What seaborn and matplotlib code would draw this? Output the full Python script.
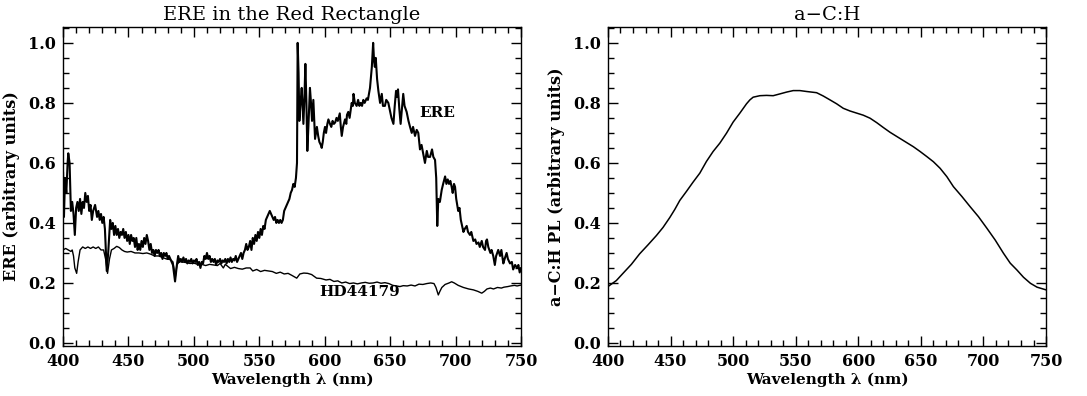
import pandas as pd
import matplotlib
matplotlib.use("Agg")
import matplotlib.pyplot as plt
import seaborn as sns
from matplotlib.ticker import MultipleLocator, FormatStrFormatter

# ERE spectrum of the Red Rectangle
ere_wl = [400, 400.7, 401.5, 402.5, 403.5, 404, 405, 406, 407, 408, 409, 410, 411, 412, 413, 414, 415, 416,
          417, 418, 419, 420, 421, 422, 423, 424.5, 426, 427, 428, 429, 430, 431, 432, 433.4, 434.5, 436,
          437, 438, 439, 440, 441, 442, 443, 444, 445, 446, 447, 448, 449, 450, 451, 452, 453, 454, 455,
          456, 457, 458, 459, 460, 461, 462, 463, 464, 465, 466, 467, 468, 469, 470, 471, 472, 473, 474,
          475, 476, 477, 478, 479, 480, 481, 482, 483, 484, 485.6, 487, 488, 489, 490, 491, 492, 493,
          494, 495, 496, 497, 498, 499, 500, 501, 502, 503, 504, 505, 506, 507, 508, 509, 510, 511, 512,
          513, 514, 515, 516, 517, 518, 519, 520, 521, 522, 523, 524, 525, 526, 527, 528, 529, 530, 531,
          532, 533, 534, 535, 536, 537, 538, 539, 540, 541, 542, 543, 544, 545, 546, 547, 548, 549, 550,
          551, 552, 553, 554, 555, 556, 557, 558, 559, 560, 561, 562, 563, 564, 565, 566, 567, 568, 569,
          570, 571, 572, 573, 574, 575, 576, 577, 578, 578.8, 579.3, 580, 580.6, 581.5, 582.4, 583.2,
          583.7, 584.5, 585.2, 586, 586.7, 587.5, 588.7, 589.5, 590.3, 591.3, 592, 592.6, 593.3, 594, 595,
          595.9, 597, 597.7, 598.5, 599.3, 600.2, 601, 602, 602.8, 604, 605, 606, 607, 608, 609, 610,
          611.5, 612.3, 613, 614, 615.5, 616.5, 617, 618, 619, 620.6, 621.5, 622, 623, 624.4, 625.5,
          626.5, 627.5, 628.5, 629.5, 630.5, 632, 633, 634.6, 636, 637, 637.7, 638.3, 639, 640, 641,
          642.3, 643.6, 644.5, 646, 647, 648.6, 650, 651, 652.5, 653.5, 654.5, 655.3, 656, 657, 658, 659,
          660, 661, 662.6, 664, 665.2, 666.5, 667.5, 669, 670.3, 671.5, 672.8, 674, 675.3, 676.6, 678,
          679, 680.5, 682, 683, 684.3, 685.2, 686, 686.8, 688, 689.4, 690.5, 692, 693, 694, 695, 696, 697,
          697.8, 698.8, 699.6, 700.5, 702, 703, 704, 705, 706, 707, 708.5, 709.5, 711, 712, 713.6, 715,
          716, 717.5, 718.5, 720, 721, 722.5, 723.3, 724, 725, 726.6, 727.5, 728.8, 730, 731, 732.6, 734,
          735, 736.5, 737.5, 739, 740, 741.6, 743, 744, 745.5, 747, 748, 749, 750]
ere_val = [0.57, 0.42, 0.55, 0.50, 0.60, 0.632, 0.60, 0.44, 0.47, 0.43, 0.36, 0.45, 0.47, 0.44, 0.48, 0.43,
           0.47, 0.45, 0.50, 0.47, 0.49, 0.44, 0.46, 0.41, 0.44, 0.46, 0.42, 0.44, 0.41, 0.43, 0.40, 0.42,
           0.38, 0.24, 0.30, 0.41, 0.38, 0.40, 0.36, 0.39, 0.36, 0.38, 0.35, 0.37, 0.36, 0.38, 0.35, 0.37,
           0.34, 0.36, 0.33, 0.36, 0.34, 0.35, 0.32, 0.35, 0.31, 0.33, 0.31, 0.34, 0.32, 0.35, 0.33, 0.36,
           0.34, 0.31, 0.33, 0.30, 0.31, 0.29, 0.31, 0.30, 0.31, 0.29, 0.30, 0.28, 0.30, 0.29, 0.30, 0.28,
           0.29, 0.28, 0.27, 0.26, 0.205, 0.26, 0.29, 0.27, 0.28, 0.27, 0.285, 0.27, 0.28, 0.265, 0.275,
           0.27, 0.28, 0.265, 0.275, 0.27, 0.28, 0.26, 0.27, 0.25, 0.27, 0.265, 0.29, 0.28, 0.30, 0.28,
           0.29, 0.27, 0.28, 0.27, 0.28, 0.26, 0.275, 0.27, 0.28, 0.265, 0.275, 0.27, 0.28, 0.265, 0.28,
           0.27, 0.285, 0.27, 0.28, 0.275, 0.29, 0.27, 0.28, 0.29, 0.30, 0.28, 0.30, 0.31, 0.33, 0.31, 0.32,
           0.34, 0.31, 0.35, 0.33, 0.36, 0.34, 0.37, 0.35, 0.38, 0.36, 0.39, 0.38, 0.41, 0.42, 0.43, 0.44,
           0.43, 0.42, 0.41, 0.42, 0.40, 0.41, 0.40, 0.41, 0.40, 0.41, 0.44, 0.45, 0.46, 0.47, 0.48, 0.50,
           0.51, 0.53, 0.52, 0.55, 0.60, 1.00, 0.90, 0.74, 0.80, 0.85, 0.78, 0.73, 0.82, 0.93, 0.80, 0.64,
           0.72, 0.85, 0.80, 0.74, 0.81, 0.74, 0.68, 0.70, 0.72, 0.69, 0.67, 0.66, 0.65, 0.67, 0.70, 0.72,
           0.70, 0.73, 0.745, 0.73, 0.72, 0.74, 0.73, 0.735, 0.75, 0.74, 0.765, 0.72, 0.69, 0.72, 0.745,
           0.73, 0.76, 0.77, 0.75, 0.80, 0.79, 0.83, 0.80, 0.79, 0.81, 0.79, 0.80, 0.79, 0.81, 0.80, 0.815,
           0.81, 0.85, 0.92, 1.00, 0.94, 0.92, 0.95, 0.88, 0.84, 0.80, 0.83, 0.79, 0.79, 0.81, 0.80, 0.77,
           0.75, 0.73, 0.79, 0.84, 0.82, 0.845, 0.78, 0.73, 0.78, 0.83, 0.79, 0.77, 0.74, 0.72, 0.70, 0.72,
           0.69, 0.71, 0.70, 0.645, 0.66, 0.63, 0.60, 0.64, 0.62, 0.62, 0.645, 0.62, 0.61, 0.55, 0.39, 0.48,
           0.47, 0.51, 0.53, 0.555, 0.53, 0.545, 0.53, 0.54, 0.52, 0.50, 0.53, 0.52, 0.48, 0.44, 0.45, 0.41,
           0.39, 0.37, 0.38, 0.39, 0.37, 0.36, 0.37, 0.34, 0.345, 0.33, 0.335, 0.32, 0.34, 0.32, 0.31, 0.34,
           0.345, 0.32, 0.30, 0.31, 0.29, 0.26, 0.29, 0.31, 0.29, 0.31, 0.265, 0.28, 0.30, 0.28, 0.265,
           0.27, 0.245, 0.26, 0.25, 0.26, 0.235, 0.25]

# HD44179 (central star) spectrum
hd_wl = [400, 402, 404, 406, 407, 408, 409, 410.4, 411.5, 413, 415, 417, 419, 421, 423, 425, 427, 429, 431,
         432.5, 434, 435.5, 437, 439, 441, 443, 445, 447, 449, 452, 455, 458, 461, 464, 467, 470, 473, 476,
         479, 482, 484, 485.8, 487, 489, 491, 494, 497, 500, 503, 506, 509, 512, 515, 518, 520, 522.5, 524,
         526, 528, 531, 534, 537, 540, 543, 545, 548, 551, 554, 557, 560, 563, 566, 569, 572, 575, 578.6,
         581, 584, 587, 590, 593.8, 597, 601, 604, 607, 610, 613, 616, 619, 622, 625, 628, 631, 634, 637,
         640, 643, 646, 649, 652, 655, 657.5, 660, 663, 666, 669, 672, 675, 678, 681, 683.5, 685, 686.8,
         688, 689.5, 692, 695, 697, 699, 702, 706, 710, 713.6, 717, 720, 722, 724, 726.6, 729, 732, 735,
         737, 740, 742, 745, 747, 750]
hd_val = [0.31, 0.315, 0.31, 0.305, 0.31, 0.29, 0.25, 0.232, 0.27, 0.31, 0.32, 0.315, 0.32, 0.315, 0.32,
          0.315, 0.32, 0.31, 0.31, 0.28, 0.232, 0.28, 0.31, 0.315, 0.322, 0.318, 0.31, 0.305, 0.303, 0.305,
          0.30, 0.30, 0.298, 0.30, 0.296, 0.29, 0.29, 0.285, 0.28, 0.278, 0.27, 0.22, 0.26, 0.272, 0.27,
          0.268, 0.265, 0.266, 0.262, 0.262, 0.258, 0.262, 0.26, 0.258, 0.265, 0.25, 0.262, 0.255, 0.248,
          0.252, 0.248, 0.246, 0.25, 0.25, 0.24, 0.245, 0.238, 0.242, 0.24, 0.238, 0.232, 0.236, 0.23,
          0.232, 0.225, 0.216, 0.23, 0.233, 0.232, 0.228, 0.216, 0.215, 0.21, 0.212, 0.205, 0.207, 0.20,
          0.203, 0.198, 0.20, 0.197, 0.20, 0.202, 0.199, 0.20, 0.203, 0.199, 0.201, 0.198, 0.192, 0.19,
          0.188, 0.191, 0.19, 0.193, 0.19, 0.196, 0.195, 0.198, 0.20, 0.198, 0.185, 0.16, 0.172, 0.185,
          0.195, 0.20, 0.204, 0.20, 0.192, 0.185, 0.18, 0.177, 0.172, 0.166, 0.172, 0.18, 0.183, 0.18,
          0.185, 0.183, 0.186, 0.188, 0.19, 0.192, 0.19, 0.193]

# a-C:H photoluminescence
ach_wl = [400, 406.7, 412, 418.7, 425.3, 432, 438.7, 444, 449.4, 453.4, 457.4, 462.7, 468, 473.4, 478.7,
          484, 489.4, 494.7, 500, 505.4, 510.7, 513.4, 516, 521.4, 526.7, 532, 537.4, 542.7, 548, 553.4,
          558.7, 566.7, 572, 577.4, 582.7, 588, 593.4, 598.7, 604, 609.4, 614.8, 620, 625.4, 630.8, 637.4,
          644, 649.4, 654.8, 660, 665.4, 670.8, 676, 682.8, 689.4, 696, 702.8, 709.4, 716, 721.4, 726.8,
          732, 737.5, 742.8, 750]
ach_val = [0.188, 0.208, 0.232, 0.262, 0.297, 0.327, 0.358, 0.385, 0.418, 0.445, 0.475, 0.505, 0.536, 0.566,
           0.605, 0.638, 0.666, 0.699, 0.736, 0.766, 0.797, 0.81, 0.819, 0.824, 0.825, 0.824, 0.83, 0.836,
           0.841, 0.841, 0.838, 0.834, 0.823, 0.81, 0.797, 0.782, 0.773, 0.766, 0.759, 0.749, 0.734, 0.718,
           0.702, 0.688, 0.671, 0.654, 0.638, 0.621, 0.604, 0.582, 0.554, 0.521, 0.488, 0.454, 0.421, 0.382,
           0.343, 0.299, 0.266, 0.243, 0.219, 0.199, 0.186, 0.177]

ere = pd.DataFrame({"wl": ere_wl, "val": ere_val})
hd = pd.DataFrame({"wl": hd_wl, "val": hd_val})
ach = pd.DataFrame({"wl": ach_wl, "val": ach_val})

sns.set_theme(style="ticks")
plt.rcParams["font.family"] = ["DejaVu Serif"]
plt.rcParams["text.color"] = "black"
plt.rcParams["axes.labelcolor"] = "black"
plt.rcParams["xtick.color"] = "black"
plt.rcParams["ytick.color"] = "black"

fig = plt.figure(figsize=(10.87, 3.96), dpi=100)
ax1 = fig.add_axes([0.058, 0.1263, 0.4213, 0.8056])
ax2 = fig.add_axes([0.5593, 0.1263, 0.403, 0.8056])

sns.lineplot(data=ere, x="wl", y="val", ax=ax1, color="black", linewidth=1.5, sort=False)
sns.lineplot(data=hd, x="wl", y="val", ax=ax1, color="black", linewidth=1.0, sort=False)
sns.lineplot(data=ach, x="wl", y="val", ax=ax2, color="black", linewidth=1.1, sort=False)

ax1.text(672, 0.767, "ERE", fontsize=11, fontweight="bold", va="center", ha="left")
ax1.text(596, 0.17, "HD44179", fontsize=11, fontweight="bold", va="center", ha="left")

ax1.set_title("ERE in the Red Rectangle", fontsize=14, pad=5)
ax2.set_title("a\u2212C:H", fontsize=14, pad=5)
ax1.set_ylabel("ERE (arbitrary units)", fontsize=11.5, fontweight="bold", labelpad=6)
ax2.set_ylabel("a\u2212C:H PL (arbitrary units)", fontsize=11.5, fontweight="bold", labelpad=6)

for ax in (ax1, ax2):
    ax.set_xlim(400, 750)
    ax.set_ylim(-0.01, 1.053)
    ax.set_xlabel("Wavelength \u03bb (nm)", fontsize=11, fontweight="bold", labelpad=2)
    ax.xaxis.set_major_locator(MultipleLocator(50))
    ax.xaxis.set_minor_locator(MultipleLocator(10))
    ax.yaxis.set_major_locator(MultipleLocator(0.2))
    ax.yaxis.set_minor_locator(MultipleLocator(0.05))
    ax.yaxis.set_major_formatter(FormatStrFormatter("%.1f"))
    ax.tick_params(which="both", direction="in", top=True, right=True, width=1, labelsize=11.5)
    ax.tick_params(which="major", length=7, pad=5)
    ax.tick_params(which="minor", length=4)
    for lab in ax.get_xticklabels() + ax.get_yticklabels():
        lab.set_fontweight("bold")
    for s in ax.spines.values():
        s.set_linewidth(1)
        s.set_color("black")

fig.savefig("out.png", dpi=100)
